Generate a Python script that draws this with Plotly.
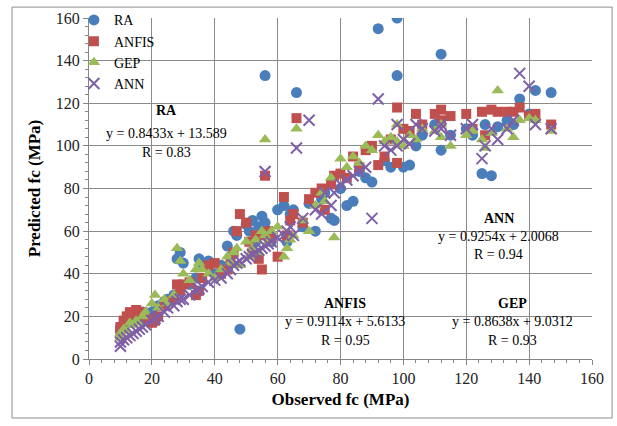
import plotly.graph_objects as go

observed = [10,10,11,12,13,14,15,16,17,18,20,21,22,24,25,27,28,29,30,32,34,35,36,38,40,42,44,45,46,47,48,50,51,52,53,54,55,56,56,57,58,60,62,63,64,65,66,68,70,72,74,75,77,78,80,82,84,86,88,90,92,94,96,98,98,100,102,104,106,110,112,112,115,120,122,125,126,128,130,133,135,137,140,142,147]

ra = [15,13,16,17,18,18,20,19,22,21,22,18,25,27,28,30,47,50,45,35,38,47,45,46,40,44,53,48,60,58,14,63,60,65,55,62,67,133,64,60,55,70,72,55,68,70,125,62,73,60,75,78,66,65,80,72,74,88,85,83,155,93,90,160,133,90,91,100,105,110,143,98,105,108,105,87,110,86,109,112,110,122,115,126,125]

anfis = [13,15,18,20,22,21,23,20,22,19,17,18,20,25,27,28,35,32,35,36,30,32,38,44,45,40,42,46,50,60,68,64,55,50,58,47,42,86,58,60,57,48,76,58,65,68,113,64,75,78,80,70,82,86,87,85,95,90,98,100,91,95,103,118,92,108,107,115,110,115,117,112,114,115,108,116,105,117,116,116,116,118,114,115,110]

gep = [12,10,14,13,17,16,18,17,20,22,26,30,24,28,26,30,52,46,40,37,42,45,42,40,38,42,48,45,50,52,44,55,48,52,56,50,60,103,58,55,60,62,48,52,56,58,108,65,60,72,78,74,85,57,94,90,95,92,100,98,105,102,104,102,110,100,105,103,108,107,104,110,100,105,107,103,99,106,126,108,104,112,113,112,107]

ann = [6,8,9,10,11,12,13,14,15,16,18,19,20,22,24,25,27,28,28,30,32,33,34,36,37,38,40,42,44,45,46,47,48,49,50,51,52,88,53,54,55,57,58,60,62,58,99,66,112,70,68,78,72,78,82,84,86,88,90,66,122,100,98,100,110,103,101,110,108,107,110,108,105,108,110,94,100,108,103,108,112,134,128,110,108]

series_names = ["RA", "ANFIS", "GEP", "ANN"]
tick_vals = [0, 20, 40, 60, 80, 100, 120, 140, 160]

equations = [
    ("RA", "y = 0.8433x + 13.589", "R = 0.83", 24.5, 116.5, 106.0, 97.0),
    ("ANFIS", "y = 0.9114x + 5.6133", "R = 0.95", 81.5, 26.0, 17.5, 8.5),
    ("GEP", "y = 0.8638x + 9.0312", "R = 0.93", 134.8, 26.0, 17.5, 8.5),
    ("ANN", "y = 0.9254x + 2.0068", "R = 0.94", 130.3, 66.0, 57.5, 49.0),
]

font_fam = "Liberation Serif"

fig = go.Figure()
fig.add_trace(go.Scatter(x=observed, y=ra, mode="markers", name=series_names[0],
                         marker=dict(symbol="circle", size=11, color="#4A7EBB")))
fig.add_trace(go.Scatter(x=observed, y=anfis, mode="markers", name=series_names[1],
                         marker=dict(symbol="square", size=10, color="#C0504D")))
fig.add_trace(go.Scatter(x=observed, y=gep, mode="markers", name=series_names[2],
                         marker=dict(symbol="triangle-up", size=11, color="#9BBB59")))
fig.add_trace(go.Scatter(x=observed, y=ann, mode="markers", name=series_names[3],
                         marker=dict(symbol="x-thin", size=11, color="#7F5FA6",
                                     line=dict(width=2, color="#7F5FA6"))))

for title, eq, r, xc, y1, y2, y3 in equations:
    fig.add_annotation(x=xc, y=y1, text="<b>%s</b>" % title, showarrow=False,
                       font=dict(family=font_fam, size=14, color="black"))
    fig.add_annotation(x=xc, y=y2, text=eq, showarrow=False,
                       font=dict(family=font_fam, size=14, color="black"))
    fig.add_annotation(x=xc, y=y3, text=r, showarrow=False,
                       font=dict(family=font_fam, size=14, color="black"))

fig.add_shape(type="rect", xref="paper", yref="paper", x0=-0.153, x1=1.04, y0=-0.173, y1=1.032,
              line=dict(color="#8c8c8c", width=1))

axis_common = dict(
    range=[0, 160], tickvals=tick_vals, showgrid=True, gridcolor="#8a8a8a", gridwidth=1,
    zeroline=False, showline=True, linecolor="#868686", linewidth=1,
    ticks="outside", ticklen=5, tickcolor="#868686",
    minor=dict(dtick=4, ticks="outside", ticklen=3, tickcolor="#868686", showgrid=False),
    tickfont=dict(family=font_fam, size=16, color="#222"),
)

fig.update_layout(
    width=617, height=426,
    margin=dict(l=89, r=25, t=18, b=67, autoexpand=False),
    paper_bgcolor="white", plot_bgcolor="white",
    font=dict(family=font_fam, size=14, color="black"),
    showlegend=True,
    legend=dict(x=-0.03, y=1.04, xanchor="left", yanchor="top", bgcolor="rgba(0,0,0,0)",
                font=dict(family=font_fam, size=14, color="black"), tracegroupgap=0,
                itemwidth=30),
    xaxis=dict(axis_common, title=dict(text="<b>Observed fc (MPa)</b>", standoff=6,
                                       font=dict(family=font_fam, size=17, color="black"))),
    yaxis=dict(axis_common, title=dict(text="<b>Predicted fc (MPa)</b>", standoff=10,
                                       font=dict(family=font_fam, size=17, color="black"))),
)

fig.write_html("out.html")
